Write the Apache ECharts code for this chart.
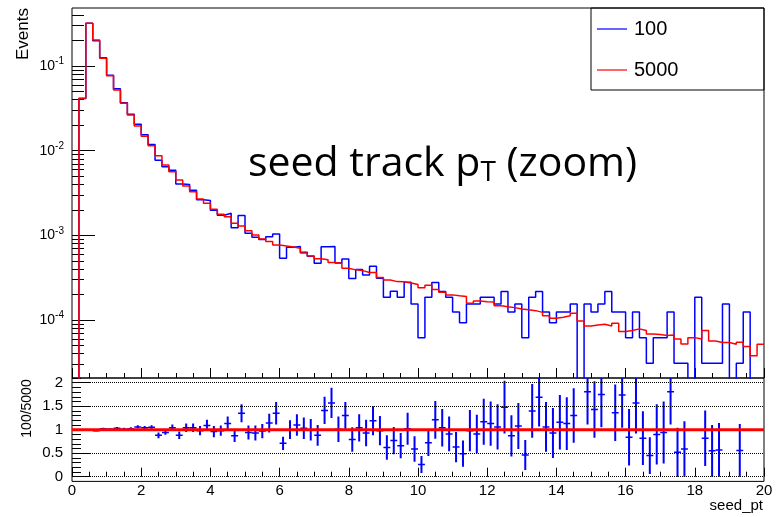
<!DOCTYPE html>
<html><head><meta charset="utf-8">
<script src="https://cdn.jsdelivr.net/npm/echarts@6/dist/echarts.min.js"></script>
<style>html,body{margin:0;padding:0;background:#fff}#c{width:779px;height:517px}</style>
</head><body><div id="c"></div><script>
// ---- data ----
const binLow = 0, binWidth = 0.2;
const seriesNames = ['100', '5000'];
const hist100 = [
0, 0.0412, 0.319, 0.199, 0.125, 0.0776, 0.0537, 0.0367, 0.0269, 0.0205,
0.0154, 0.0118, 0.00772, 0.00645, 0.00588, 0.00405, 0.00398, 0.00341, 0.00263, 0.00257,
0.00198, 0.00173, 0.00182, 0.00123, 0.00172, 0.00106, 0.00095, 0.00089, 0.00096, 0.00104,
0.000535, 0.000725, 0.00074, 0.00063, 0.000565, 0.000468, 0.000732, 0.00074, 0.000471, 0.000527,
0.00031, 0.000395, 0.000339, 0.00043, 0.000312, 0.000185, 0.000218, 0.000185, 0.000279, 0.000154,
6.15e-5, 0.000185, 0.000278, 0.000217, 0.000186, 0.000124, 9.25e-5, 0.000154, 0.000154, 0.000185,
0.000185, 0.000154, 0.000217, 0.000124, 0.000154, 6.15e-5, 0.000185, 0.000217, 0.000124, 9.25e-5,
0.000124, 0.000124, 0.000154, 0, 0.000154, 0.000124, 0.000154, 0.000217, 0.000124, 0.000124,
6.15e-5, 0.000124, 6.15e-5, 3.09e-5, 6.15e-5, 6.15e-5, 0.000124, 3.09e-5, 3.09e-5, 0,
0.000186, 3.09e-5, 3.09e-5, 3.09e-5, 0.000154, 0, 3.09e-5, 0.000124, 0, 0
];
const hist5000 = [
0, 0.0416, 0.319, 0.203, 0.123, 0.0768, 0.0521, 0.0363, 0.0264, 0.0196,
0.0148, 0.0114, 0.00873, 0.00678, 0.00565, 0.00451, 0.00383, 0.00328, 0.00269, 0.00239,
0.00203, 0.00177, 0.00166, 0.00139, 0.00129, 0.00113, 0.00101, 0.000907, 0.000843, 0.00077,
0.00075, 0.00073, 0.000705, 0.00062, 0.000571, 0.00053, 0.000515, 0.000476, 0.000469, 0.000409,
0.000391, 0.000383, 0.000363, 0.000363, 0.000318, 0.000297, 0.000284, 0.000282, 0.000274, 0.000262,
0.000241, 0.000258, 0.000229, 0.000212, 0.000198, 0.000193, 0.000189, 0.000158, 0.000168, 0.000164,
0.000163, 0.000147, 0.000143, 0.00014, 0.000135, 0.000132, 0.000129, 0.000123, 0.000112, 0.000105,
0.000108, 0.000112, 0.00012, 9.75e-5, 8.51e-5, 8.75e-5, 8.91e-5, 8.51e-5, 9.16e-5, 7.3e-5,
7.5e-5, 7.85e-5, 7.5e-5, 6.85e-5, 6.72e-5, 6.54e-5, 6.67e-5, 5.98e-5, 5.22e-5, 6.19e-5,
5.98e-5, 7.54e-5, 5.66e-5, 5.41e-5, 5.41e-5, 5.18e-5, 5.47e-5, 4.85e-5, 3.77e-5, 5.18e-5
];
const ratio = [
null, 0.99, 1.0, 0.98, 1.02, 1.01, 1.03, 1.01, 1.02, 1.06,
1.04, 1.05, 0.88, 0.94, 1.04, 0.88, 1.04, 1.04, 0.98, 1.09,
0.96, 0.98, 1.13, 0.87, 1.35, 0.94, 0.93, 0.97, 1.14, 1.35,
0.71, 1.0, 1.1, 1.03, 1.0, 0.88, 1.41, 1.57, 1.01, 1.3,
0.79, 1.04, 0.93, 1.19, 0.98, 0.62, 0.77, 0.66, 1.02, 0.59,
0.26, 0.72, 1.21, 1.04, 0.91, 0.63, 0.49, 0.98, 0.91, 1.17,
1.13, 1.06, 1.48, 0.87, 1.08, 0.46, 1.40, 1.69, 1.06, 0.93,
1.16, 1.13, 1.3, null, 1.81, 1.43, 1.75, null, 1.36, 1.74,
0.84, 1.57, 0.82, 0.45, 0.90, 0.94, 1.81, 0.52, 0.59, null,
null, 0.82, 0.55, 0.57, null, null, 0.56, null, null, null
];
const ratioErr = [
null, 0.02, 0.01, 0.015, 0.02, 0.02, 0.025, 0.03, 0.03, 0.035,
0.04, 0.045, 0.06, 0.05, 0.07, 0.08, 0.09, 0.09, 0.1, 0.12,
0.12, 0.11, 0.15, 0.13, 0.19, 0.15, 0.16, 0.15, 0.2, 0.24,
0.14, 0.2, 0.23, 0.23, 0.23, 0.22, 0.29, 0.32, 0.27, 0.29,
0.26, 0.29, 0.28, 0.31, 0.31, 0.26, 0.29, 0.27, 0.34, 0.27,
0.18, 0.28, 0.4, 0.4, 0.37, 0.32, 0.28, 0.44, 0.41, 0.49,
0.47, 0.48, 0.56, 0.44, 0.49, 0.32, 0.57, 0.62, 0.53, 0.53,
0.58, 0.56, 0.58, null, 0.7, 0.6, 0.7, null, 0.6, 0.7,
0.6, 0.65, 0.57, 0.39, 0.64, 0.66, 0.7, 0.52, 0.59, null,
null, 0.59, 0.55, 0.57, null, null, 0.56, null, null, null
];
const xRange = [0, 20];
const topYRange = [2.065e-5, 0.484];
const topMajorExp = [-4, -3, -2, -1];
const ratioRange = [-0.1, 2.1];
const ratioTicks = [0, 0.5, 1, 1.5, 2];
const ratioRef = 1;
const colors = {h100: '#0000ff', h5000: '#ff0000'};

// ---- build ----
const FLOOR = -8;
const toLog = v => (v > 0 ? Math.log10(v) : FLOOR);
function stepData(h) {
  const pts = h.map((v, i) => [binLow + i * binWidth, toLog(v)]);
  pts.push([binLow + h.length * binWidth, toLog(h[h.length - 1])]);
  return pts;
}
const yLogMin = Math.log10(topYRange[0]), yLogMax = Math.log10(topYRange[1]);
const topMinor = [];
for (let d = -6; d <= 0; d++) for (let k = 2; k <= 9; k++) {
  const l = Math.log10(k) + d;
  if (l > yLogMin && l < yLogMax) topMinor.push(l);
}
const ratioMinorVals = [];
for (let k = 0; k <= 21; k++) ratioMinorVals.push(k / 10);
const errData = [];
ratio.forEach((r, i) => { if (r != null) errData.push([binLow + (i + 0.5) * binWidth, r, ratioErr[i]]); });

const FONT = 'Liberation Sans';
const black = '#000';
const chart = echarts.init(document.getElementById('c'), null, {renderer: 'canvas'});
chart.setOption({
  animation: false,
  backgroundColor: '#fff',
  grid: [
    {left: 72, top: 8, width: 692, height: 370, show: true, borderColor: black, borderWidth: 1, backgroundColor: 'transparent'},
    {left: 72, top: 378, width: 692, height: 103.4, show: true, borderColor: black, borderWidth: 1, backgroundColor: 'transparent'}
  ],
  xAxis: [
    {gridIndex: 0, type: 'value', min: xRange[0], max: xRange[1], interval: 2,
     axisLine: {show: false}, splitLine: {show: false},
     axisTick: {inside: true, length: 10, lineStyle: {color: black}},
     minorTick: {show: true, splitNumber: 4, length: 5, lineStyle: {color: black}},
     axisLabel: {show: false}},
    {gridIndex: 1, type: 'value', min: xRange[0], max: xRange[1], interval: 2,
     axisLine: {show: false}, splitLine: {show: false},
     axisTick: {inside: true, length: 9, lineStyle: {color: black}},
     minorTick: {show: true, splitNumber: 4, length: 5, lineStyle: {color: black}},
     axisLabel: {show: true, fontSize: 15, fontFamily: FONT, color: black, margin: 2}}
  ],
  yAxis: [
    {gridIndex: 0, type: 'value', position: 'left', min: yLogMin, max: yLogMax,
     axisLine: {show: false}, splitLine: {show: false},
     axisTick: {show: true, inside: true, length: 23, customValues: topMajorExp, lineStyle: {color: black}},
     axisLabel: {show: true, customValues: topMajorExp, margin: 8, color: black,
       formatter: v => '{b|10}{s|' + Math.round(v) + '}',
       rich: {b: {fontSize: 14, fontFamily: FONT, color: black},
              s: {fontSize: 10, fontFamily: FONT, color: black, padding: [0, 0, 9, 0]}}}},
    {gridIndex: 0, type: 'value', position: 'left', min: yLogMin, max: yLogMax,
     axisLine: {show: false}, splitLine: {show: false},
     axisTick: {show: true, inside: true, length: 12, customValues: topMinor, lineStyle: {color: black}},
     axisLabel: {show: false}},
    {gridIndex: 1, type: 'value', position: 'left', min: ratioRange[0], max: ratioRange[1],
     axisLine: {show: false}, splitLine: {show: false},
     axisTick: {show: true, inside: true, length: 18, customValues: ratioTicks, lineStyle: {color: black}},
     axisLabel: {show: true, customValues: ratioTicks, margin: 9, fontSize: 15, fontFamily: FONT, color: black,
       formatter: v => String(Math.round(v * 10) / 10)}},
    {gridIndex: 1, type: 'value', position: 'left', min: ratioRange[0], max: ratioRange[1],
     axisLine: {show: false}, splitLine: {show: false},
     axisTick: {show: true, inside: true, length: 9, customValues: ratioMinorVals, lineStyle: {color: black}},
     axisLabel: {show: false}}
  ],
  legend: {
    data: seriesNames.map(n => ({name: n, icon: 'rect'})), orient: 'vertical', left: 597, top: 19, padding: 0,
    itemWidth: 30, itemHeight: 1.2, itemGap: 21,
    textStyle: {fontSize: 20, fontFamily: FONT, color: black, lineHeight: 20, padding: [0, 0, 0, 2]}
  },
  graphic: [
    {type: 'rect', shape: {x: 591, y: 8, width: 173, height: 82}, style: {fill: 'none', stroke: black, lineWidth: 1}, silent: true, z: 100},
    {type: 'text', x: 23.5, y: 8, rotation: Math.PI / 2, silent: true,
     style: {text: 'Events', fontSize: 17, fontFamily: FONT, fill: black, align: 'right', verticalAlign: 'middle'}},
    {type: 'text', x: 27.5, y: 408.5, rotation: Math.PI / 2, silent: true,
     style: {text: '100/5000', fontSize: 14, fontFamily: FONT, fill: black, align: 'center', verticalAlign: 'middle'}},
    {type: 'text', x: 763, y: 506, silent: true,
     style: {text: 'seed_pt', fontSize: 15, fontFamily: FONT, fill: black, align: 'right', verticalAlign: 'middle'}},
    {type: 'text', x: 248, y: 164, silent: true,
     style: {text: 'seed track p{sub|T} (zoom)', fontSize: 41, fontFamily: 'Open Sans', fill: black,
       align: 'left', verticalAlign: 'middle',
       rich: {sub: {fontSize: 28, fontFamily: 'Open Sans', fill: black, padding: [18, 0, 0, 0]}}}}
  ],
  series: [
    {name: seriesNames[0], type: 'line', xAxisIndex: 0, yAxisIndex: 0, step: 'end', symbol: 'none', clip: true,
     data: stepData(hist100), lineStyle: {color: colors.h100, width: 1.5}, itemStyle: {color: colors.h100}, z: 3},
    {name: seriesNames[1], type: 'line', xAxisIndex: 0, yAxisIndex: 0, step: 'end', symbol: 'none', clip: true,
     data: stepData(hist5000), lineStyle: {color: colors.h5000, width: 1.5}, itemStyle: {color: colors.h5000}, z: 4},
    {type: 'custom', xAxisIndex: 1, yAxisIndex: 2, data: errData, z: 3, clip: true,
     renderItem: (params, api) => {
       const x = api.value(0), r = api.value(1), e = api.value(2);
       const lo = Math.max(r - e, ratioRange[0]), hi = Math.min(r + e, ratioRange[1]);
       const pT = api.coord([x, hi]), pB = api.coord([x, lo]);
       const pL = api.coord([x - binWidth / 2, r]), pR = api.coord([x + binWidth / 2, r]);
       return {type: 'group', children: [
         {type: 'line', shape: {x1: pT[0], y1: pT[1], x2: pB[0], y2: pB[1]}, style: {stroke: colors.h100, lineWidth: 2}},
         {type: 'line', shape: {x1: pL[0], y1: pL[1], x2: pR[0], y2: pR[1]}, style: {stroke: colors.h100, lineWidth: 1.5}}
       ]};
     }},
    {type: 'line', xAxisIndex: 1, yAxisIndex: 2, symbol: 'none', z: 5,
     data: [[xRange[0], ratioRef], [xRange[1], ratioRef]],
     lineStyle: {color: colors.h5000, width: 3},
     markLine: {silent: true, symbol: ['none', 'none'], label: {show: false}, animation: false,
       lineStyle: {type: 'dotted', color: black, width: 1},
       data: ratioTicks.filter(v => v !== ratioRef).map(v => ({yAxis: v}))}}
  ]
});
</script></body></html>
